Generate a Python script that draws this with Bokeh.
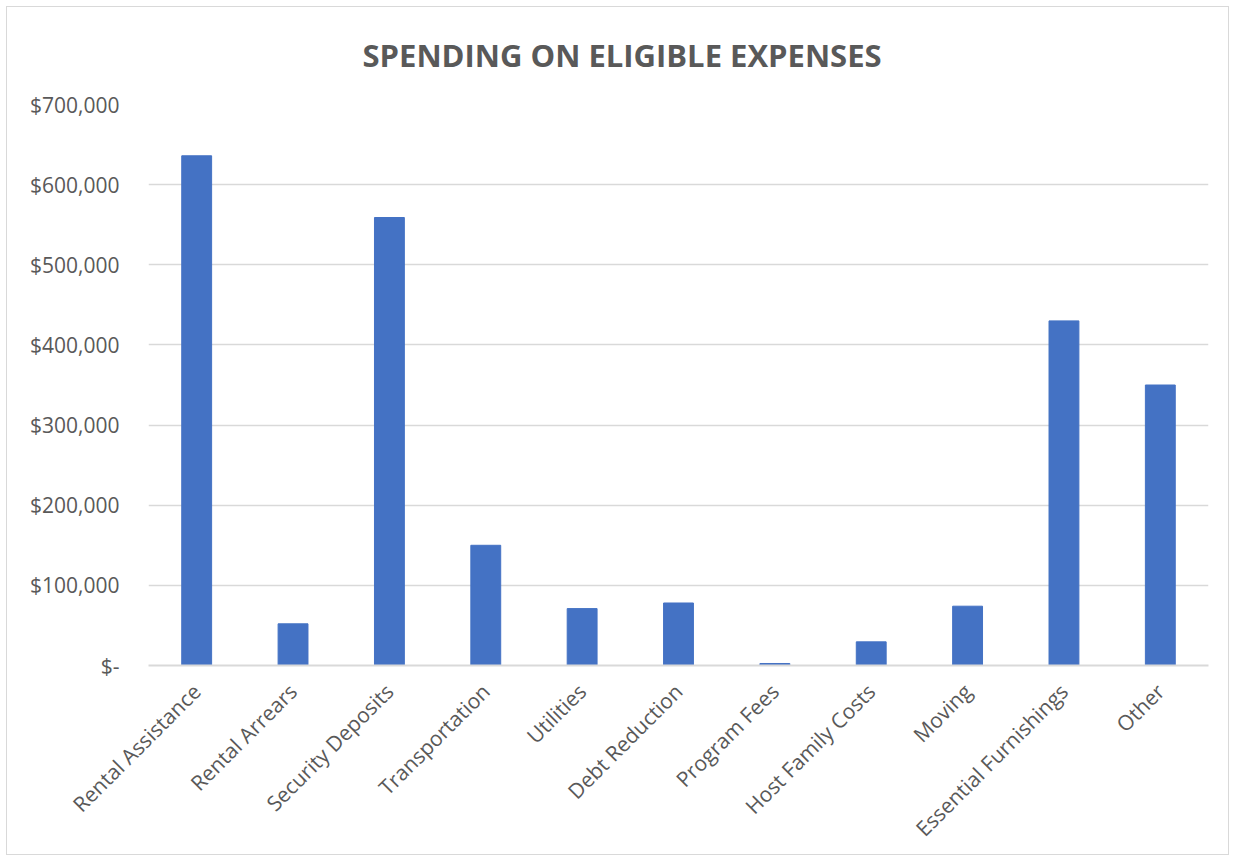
from bokeh.plotting import figure
from bokeh.models import ColumnDataSource, FixedTicker, Range1d
from bokeh.embed import file_html
from bokeh.resources import INLINE
from math import pi

title_text = "SPENDING ON ELIGIBLE EXPENSES"
categories = ["Rental Assistance", "Rental Arrears", "Security Deposits", "Transportation",
              "Utilities", "Debt Reduction", "Program Fees", "Host Family Costs",
              "Moving", "Essential Furnishings", "Other"]
spending = [636000, 52000, 559000, 150000, 71000, 78000, 2500, 29500, 74000, 430000, 350000]
tick_values = [0, 100000, 200000, 300000, 400000, 500000, 600000, 700000]
tick_labels = ["$-", "$100,000", "$200,000", "$300,000", "$400,000", "$500,000", "$600,000", "$700,000"]

TEXT = "#595959"
GRID = "#d9d9d9"
BAR = "#4472C4"
FONT = "Open Sans"

source = ColumnDataSource(data=dict(cat=categories, val=spending))

p = figure(x_range=categories, y_range=Range1d(0, 700000),
           frame_width=1060, frame_height=561,
           min_border_left=141, min_border_right=20, min_border_top=97, min_border_bottom=187,
           output_backend="svg", toolbar_location=None, title=title_text)
p.styles = {"border": "1px solid #d9d9d9", "margin-left": "6px", "margin-top": "6px"}

p.vbar(x="cat", top="val", width=0.31, source=source, fill_color=BAR, line_color=BAR)

p.title.align = "left"
p.title.offset = 214
p.title.vertical_align = "top"
p.title.standoff = 53
p.title.text_font = FONT
p.title.text_font_size = "31px"
p.title.text_font_style = "bold"
p.title.text_color = TEXT

p.outline_line_color = None
p.background_fill_color = "white"
p.border_fill_color = "white"

p.xgrid.grid_line_color = None
p.ygrid.grid_line_color = GRID
p.ygrid.grid_line_width = 1.5

p.yaxis.ticker = FixedTicker(ticks=tick_values)
p.yaxis.major_label_overrides = {v: l for v, l in zip(tick_values, tick_labels)}
p.yaxis.axis_line_color = None
p.yaxis.major_tick_line_color = None
p.yaxis.minor_tick_line_color = None
p.yaxis.major_label_standoff = 23
p.yaxis.major_label_text_font = FONT
p.yaxis.major_label_text_font_size = "21px"
p.yaxis.major_label_text_color = TEXT

p.xaxis.axis_line_color = GRID
p.xaxis.axis_line_width = 2
p.xaxis.major_tick_line_color = None
p.xaxis.minor_tick_line_color = None
p.xaxis.major_label_orientation = pi / 4
p.xaxis.major_label_standoff = 16
p.xaxis.major_label_text_font = FONT
p.xaxis.major_label_text_font_size = "21px"
p.xaxis.major_label_text_color = TEXT
p.x_range.range_padding = 0

open("out.html", "w").write(file_html(p, INLINE))
